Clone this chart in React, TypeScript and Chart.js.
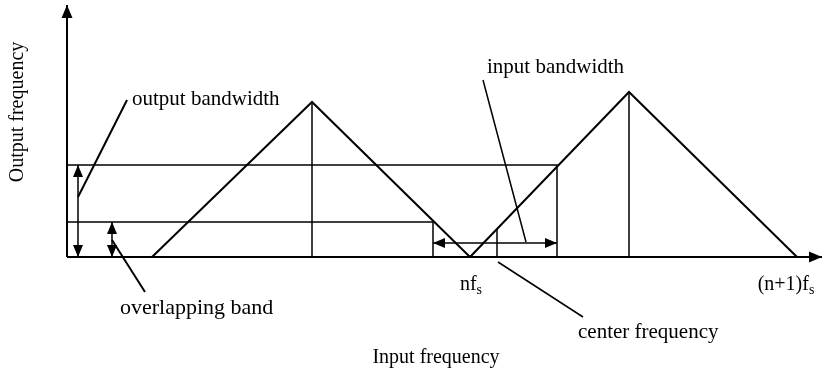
import { useEffect, useRef } from "react";
import { Chart, registerables } from "chart.js";

Chart.register(...registerables);

// Diagram units: x = input frequency (0 at the vertical axis), y = output frequency (0 at the horizontal axis)
const xAxisX = [0, 755];
const xAxisY = [0, 0];
const yAxisX = [0, 0];
const yAxisY = [0, 252];

const lowerImageX = [85, 245, 403];
const lowerImageY = [0, 155, 0];
const upperImageX = [403, 562, 730];
const upperImageY = [0, 165, 0];

const lowerPeakX = [245, 245];
const lowerPeakY = [0, 155];
const upperPeakX = [562, 562];
const upperPeakY = [0, 165];

const outputBandX = [0, 490, 490];
const outputBandY = [92, 92, 0];
const overlapBandX = [0, 366, 366];
const overlapBandY = [35, 35, 0];

const centerFreqX = [430, 430];
const centerFreqY = [0, 28];

const inputBwArrowX = [366, 490];
const inputBwArrowY = [14, 14];
const outputBwArrowX = [11, 11];
const outputBwArrowY = [0, 92];
const overlapArrowX = [45, 45];
const overlapArrowY = [0, 35];

const outputBwLeaderX = [11, 60];
const outputBwLeaderY = [60, 157];
const overlapLeaderX = [45, 78];
const overlapLeaderY = [17, -35];
const inputBwLeaderX = [416, 459];
const inputBwLeaderY = [177, 15];
const centerLeaderX = [431, 516];
const centerLeaderY = [-5, -60];

const tickLabels = ["nf", "(n+1)f"];
const tickSubscripts = ["s", "s"];
const tickLabelX = [404, 719];
const tickLabelY = [-33, -33];

const annotationTexts = ["output bandwidth", "overlapping band", "input bandwidth", "center frequency"];
const annotationX = [65, 53, 420, 511];
const annotationY = [152, -57, 184, -81];
const annotationSizes = [21, 22, 21, 21];

const xTitle = "Input frequency";
const yTitle = "Output frequency";

const FONT = '"Liberation Serif", "Times New Roman", serif';

function pts(xs: number[], ys: number[]) {
  return xs.map((x, i) => ({ x, y: ys[i] }));
}

function seg(xs: number[], ys: number[], width: number, extra: any = {}) {
  return {
    data: pts(xs, ys),
    borderColor: "#000",
    borderWidth: width,
    pointRadius: 0,
    showLine: true,
    fill: false,
    tension: 0,
    clip: false as any,
    ...extra,
  };
}

function drawHead(ctx: CanvasRenderingContext2D, tx: number, ty: number, fx: number, fy: number, len: number, half: number) {
  const a = Math.atan2(ty - fy, tx - fx);
  const bx = tx - len * Math.cos(a);
  const by = ty - len * Math.sin(a);
  ctx.beginPath();
  ctx.moveTo(tx, ty);
  ctx.lineTo(bx + half * Math.sin(a), by - half * Math.cos(a));
  ctx.lineTo(bx - half * Math.sin(a), by + half * Math.cos(a));
  ctx.closePath();
  ctx.fill();
}

const arrowPlugin = {
  id: "arrowHeads",
  afterDatasetsDraw(chart: any) {
    const ctx = chart.ctx as CanvasRenderingContext2D;
    ctx.save();
    ctx.fillStyle = "#000";
    chart.data.datasets.forEach((ds: any, i: number) => {
      const meta = chart.getDatasetMeta(i);
      const p = meta.data;
      if (!p || p.length < 2) return;
      const len = ds.headLen || 12;
      const half = ds.headHalf || 5;
      if (ds.arrowEnd) {
        const a = p[p.length - 1], b = p[p.length - 2];
        drawHead(ctx, a.x, a.y, b.x, b.y, len, half);
      }
      if (ds.arrowStart) {
        const a = p[0], b = p[1];
        drawHead(ctx, a.x, a.y, b.x, b.y, len, half);
      }
    });
    ctx.restore();
  },
};

const textPlugin = {
  id: "diagramText",
  afterDraw(chart: any) {
    const ctx = chart.ctx as CanvasRenderingContext2D;
    const xs = chart.scales.x;
    const ys = chart.scales.y;
    ctx.save();
    ctx.fillStyle = "#000";
    ctx.textBaseline = "alphabetic";
    ctx.textAlign = "left";
    annotationTexts.forEach((t, i) => {
      ctx.font = `${annotationSizes[i]}px ${FONT}`;
      ctx.fillText(t, xs.getPixelForValue(annotationX[i]), ys.getPixelForValue(annotationY[i]));
    });
    // tick labels with subscripts
    tickLabels.forEach((t, i) => {
      ctx.font = `20px ${FONT}`;
      const w = ctx.measureText(t).width;
      ctx.font = `14px ${FONT}`;
      const ws = ctx.measureText(tickSubscripts[i]).width;
      const cx = xs.getPixelForValue(tickLabelX[i]);
      const by = ys.getPixelForValue(tickLabelY[i]);
      const x0 = cx - (w + ws) / 2;
      ctx.font = `20px ${FONT}`;
      ctx.fillText(t, x0, by);
      ctx.font = `14px ${FONT}`;
      ctx.fillText(tickSubscripts[i], x0 + w, by + 4);
    });
    // axis titles
    ctx.font = `20px ${FONT}`;
    ctx.textAlign = "center";
    ctx.fillText(xTitle, xs.getPixelForValue(369), ys.getPixelForValue(-106));
    ctx.save();
    ctx.translate(xs.getPixelForValue(-44), ys.getPixelForValue(145));
    ctx.rotate(-Math.PI / 2);
    ctx.fillText(yTitle, 0, 0);
    ctx.restore();
    ctx.restore();
  },
};

export default function App() {
  const ref = useRef<HTMLCanvasElement | null>(null);
  useEffect(() => {
    if (!ref.current) return;
    const small = { headLen: 12, headHalf: 5 };
    const chart = new Chart(ref.current, {
      type: "scatter",
      data: {
        datasets: [
          seg(xAxisX, xAxisY, 2, { arrowEnd: true, headLen: 13, headHalf: 5.5 }),
          seg(yAxisX, yAxisY, 2, { arrowEnd: true, headLen: 13, headHalf: 5.5 }),
          seg(lowerImageX, lowerImageY, 2),
          seg(upperImageX, upperImageY, 2),
          seg(lowerPeakX, lowerPeakY, 1.5),
          seg(upperPeakX, upperPeakY, 1.5),
          seg(outputBandX, outputBandY, 1.5),
          seg(overlapBandX, overlapBandY, 1.5),
          seg(centerFreqX, centerFreqY, 1.5),
          seg(inputBwArrowX, inputBwArrowY, 1.5, { arrowStart: true, arrowEnd: true, ...small }),
          seg(outputBwArrowX, outputBwArrowY, 1.5, { arrowStart: true, arrowEnd: true, ...small }),
          seg(overlapArrowX, overlapArrowY, 1.5, { arrowStart: true, arrowEnd: true, ...small }),
          seg(outputBwLeaderX, outputBwLeaderY, 2),
          seg(overlapLeaderX, overlapLeaderY, 2),
          seg(inputBwLeaderX, inputBwLeaderY, 1.5),
          seg(centerLeaderX, centerLeaderY, 1.5),
        ] as any,
      },
      options: {
        responsive: false,
        maintainAspectRatio: false,
        animation: false,
        devicePixelRatio: 1,
        layout: { padding: 0 },
        plugins: { legend: { display: false }, tooltip: { enabled: false } },
        events: [],
        scales: {
          x: { type: "linear", display: false, min: -67, max: 758, bounds: "data" },
          y: { type: "linear", display: false, min: -115, max: 257, bounds: "data" },
        },
      },
      plugins: [arrowPlugin, textPlugin],
    });
    return () => chart.destroy();
  }, []);
  return (
    <div style={{ position: "fixed", left: 0, top: 0, width: 825, height: 372, background: "#fff" }}>
      <canvas ref={ref} width={825} height={372} style={{ display: "block" }} />
    </div>
  );
}
